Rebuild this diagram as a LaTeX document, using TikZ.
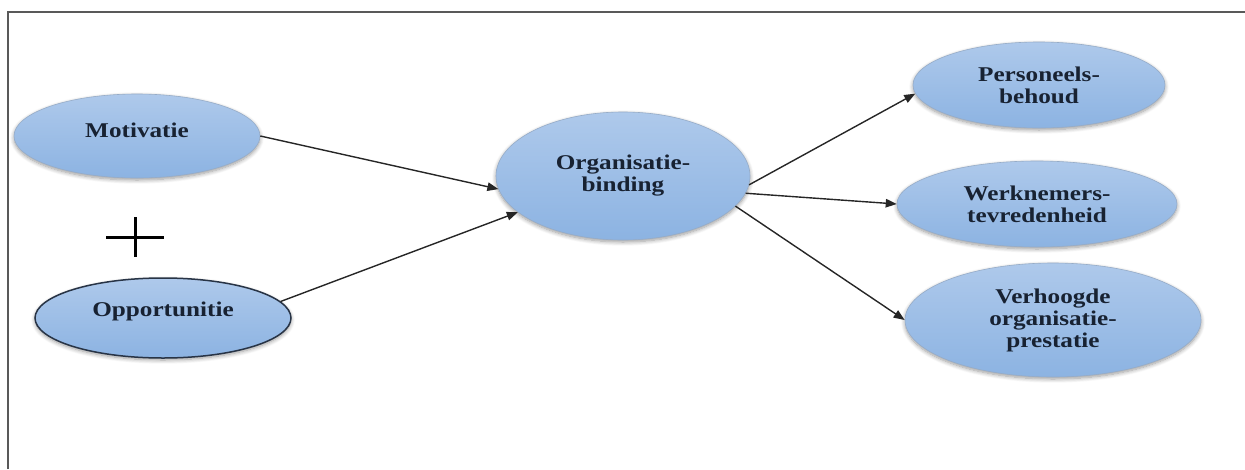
\documentclass[tikz,border=0pt]{standalone}
\usepackage{fontspec}
\setmainfont{Liberation Serif}[FakeStretch=1.2]
\usetikzlibrary{shapes.geometric,arrows.meta,shadows.blur}

\definecolor{bubbletop}{RGB}{174,201,235}
\definecolor{bubblebot}{RGB}{140,179,226}
\definecolor{bubbleedge}{RGB}{150,172,200}
\definecolor{labelink}{RGB}{24,34,50}
\definecolor{darkedge}{RGB}{40,52,70}

\tikzset{
  bubble/.style={ellipse, inner sep=0pt, top color=bubbletop, bottom color=bubblebot,
    draw=bubbleedge, line width=0.6pt,
    blur shadow={shadow xshift=0pt, shadow yshift=-2pt, shadow blur radius=4pt,
      shadow blur steps=8, shadow opacity=40},
    text=labelink, align=center, font=\fontsize{21}{22}\selectfont\bfseries},
  link/.style={draw=black!85, line width=1.4pt, -{Triangle[length=11pt,width=8.5pt]}},
  frameline/.style={draw=black!65, line width=2.2pt},
}

\begin{document}
\begin{tikzpicture}[x=1pt, y=-1pt]
  \useasboundingbox (0,0) rectangle (1245,469);

  % outer frame (top and left edges)
  \draw[frameline] (8,469) -- (8,12) -- (1245,12);

  % input factors
  \node[bubble, minimum width=246pt, minimum height=84pt] (mot) at (137,136)
    {\raisebox{6pt}[\height][\depth]{Motivatie}};
  \node[bubble, draw=darkedge, line width=1.5pt, minimum width=256pt, minimum height=80pt] (opp) at (163,318)
    {\raisebox{7pt}[\height][\depth]{Opportunitie}};

  % plus sign between the inputs
  \draw[line width=3pt] (106,237) -- (164,237) (135,217) -- (135,257);

  % central construct
  \node[bubble, minimum width=254pt, minimum height=128pt] (org) at (623,176)
    {Organisatie-\\binding};

  % outcomes
  \node[bubble, minimum width=252pt, minimum height=86pt] (pers) at (1039,85)
    {Personeels-\\behoud};
  \node[bubble, minimum width=280pt, minimum height=86pt] (werk) at (1037,204)
    {Werknemers-\\tevredenheid};
  \node[bubble, minimum width=296pt, minimum height=114pt] (verh) at (1053,320)
    {Verhoogde\\organisatie-\\prestatie};

  % relations
  \draw[link] (mot.east) -- (org.186);
  \draw[link] (opp.8) -- (org.199);
  \draw[link] (org.-4) -- (pers.184.5);
  \draw[link] (org.-8) -- (werk.west);
  \draw[link] (org.-15) -- (verh.west);
\end{tikzpicture}
\end{document}
